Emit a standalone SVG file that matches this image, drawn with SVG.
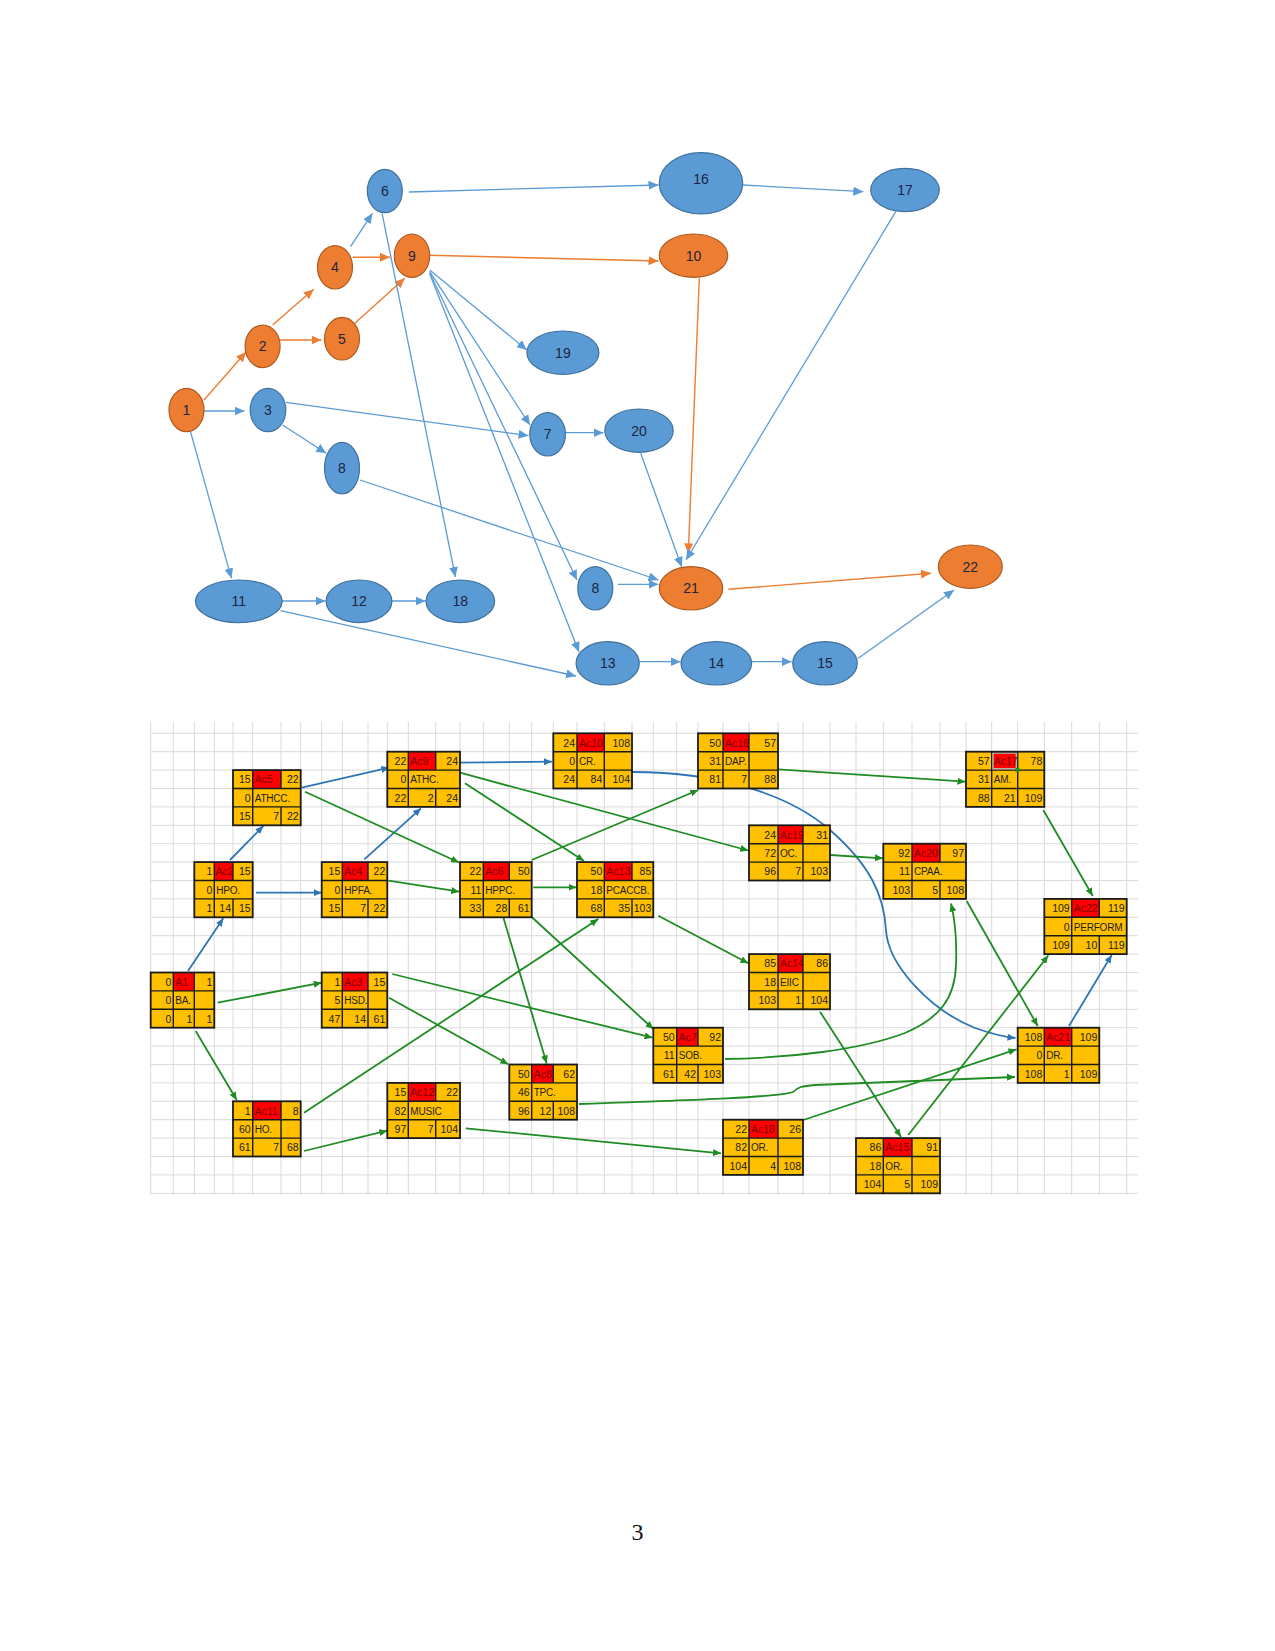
<svg xmlns="http://www.w3.org/2000/svg" width="1275" height="1651" viewBox="0 0 1275 1651">
<defs>
<style>
.eb{fill:#5B9BD5;stroke:#41719C;stroke-width:1.2}
.eo{fill:#ED7D31;stroke:#AE5A21;stroke-width:1.2}
.et{font-family:"Liberation Sans",Arial,sans-serif;font-size:14px;fill:#1c2541;text-anchor:middle}
.cb{fill:none;stroke:#5B9BD5;stroke-width:1.3}
.co{fill:none;stroke:#ED7D31;stroke-width:1.4}
.gd{fill:none;stroke:#d9d9d9;stroke-width:1}
.bx{fill:#FFC000}
.rd{fill:#FF0000}
.ln{fill:none;stroke:#1a1a1a;stroke-width:1.4}
.ol{fill:none;stroke:#1a1a1a;stroke-width:1.8}
.n{font-family:"Liberation Sans",Arial,sans-serif;font-size:10.5px;fill:#222;text-anchor:end}
.l{font-family:"Liberation Sans",Arial,sans-serif;font-size:10px;letter-spacing:-0.2px;fill:#222;text-anchor:start}
.a{font-family:"Liberation Sans",Arial,sans-serif;font-size:10.5px;fill:#7a0000;text-anchor:start}
.cg{fill:none;stroke:#1E8C22;stroke-width:1.8}
.cB{fill:none;stroke:#2E75B6;stroke-width:1.8}
</style>
<marker id="mb" markerUnits="userSpaceOnUse" markerWidth="11" markerHeight="9" refX="10" refY="4.5" orient="auto"><path d="M0,0 L10,4.5 L0,9 z" fill="#5B9BD5"/></marker>
<marker id="mo" markerUnits="userSpaceOnUse" markerWidth="11" markerHeight="9" refX="10" refY="4.5" orient="auto"><path d="M0,0 L10,4.5 L0,9 z" fill="#ED7D31"/></marker>
<marker id="mg" markerUnits="userSpaceOnUse" markerWidth="9" markerHeight="7" refX="8" refY="3.5" orient="auto"><path d="M0,0 L8,3.5 L0,7 z" fill="#1E8C22"/></marker>
<marker id="mB" markerUnits="userSpaceOnUse" markerWidth="9" markerHeight="7" refX="8" refY="3.5" orient="auto"><path d="M0,0 L8,3.5 L0,7 z" fill="#2E75B6"/></marker>
</defs>
<rect x="0" y="0" width="1275" height="1651" fill="#ffffff"/>

<!-- ===== Upper network: connectors ===== -->
<g id="top-connectors">
<line class="co" x1="204" y1="400" x2="246" y2="352" marker-end="url(#mo)"/>
<line class="co" x1="272.6" y1="325" x2="313.7" y2="289.3" marker-end="url(#mo)"/>
<line class="co" x1="280.1" y1="340" x2="321.5" y2="340" marker-end="url(#mo)"/>
<line class="co" x1="352.6" y1="257.3" x2="390" y2="257.3" marker-end="url(#mo)"/>
<line class="co" x1="354.8" y1="323.3" x2="404.8" y2="278.3" marker-end="url(#mo)"/>
<line class="co" x1="429.8" y1="255.3" x2="658.5" y2="261" marker-end="url(#mo)"/>
<line class="co" x1="699.3" y1="278.3" x2="688.3" y2="553.3" marker-end="url(#mo)"/>
<line class="co" x1="728.3" y1="589.3" x2="931" y2="573.3" marker-end="url(#mo)"/>
<line class="cb" x1="350.5" y1="246.7" x2="372.4" y2="213.3" marker-end="url(#mb)"/>
<line class="cb" x1="408.9" y1="192" x2="658.5" y2="185" marker-end="url(#mb)"/>
<line class="cb" x1="742.7" y1="185" x2="863.3" y2="191.7" marker-end="url(#mb)"/>
<line class="cb" x1="895.7" y1="211.7" x2="686" y2="560" marker-end="url(#mb)"/>
<line class="cb" x1="382.1" y1="213.3" x2="455.4" y2="577" marker-end="url(#mb)"/>
<line class="cb" x1="429.8" y1="270" x2="526.8" y2="350" marker-end="url(#mb)"/>
<line class="cb" x1="429.8" y1="271.7" x2="530" y2="425" marker-end="url(#mb)"/>
<line class="cb" x1="429.8" y1="273" x2="577" y2="580" marker-end="url(#mb)"/>
<line class="cb" x1="429.8" y1="274" x2="579" y2="652" marker-end="url(#mb)"/>
<line class="cb" x1="204" y1="411" x2="244.5" y2="411" marker-end="url(#mb)"/>
<line class="cb" x1="285.9" y1="402.3" x2="528.5" y2="435.7" marker-end="url(#mb)"/>
<line class="cb" x1="282.6" y1="425" x2="326.2" y2="453.3" marker-end="url(#mb)"/>
<line class="cb" x1="190.5" y1="431.7" x2="231.4" y2="578.3" marker-end="url(#mb)"/>
<line class="cb" x1="360.1" y1="480" x2="658.5" y2="580" marker-end="url(#mb)"/>
<line class="cb" x1="617.9" y1="584.3" x2="658.5" y2="584.3" marker-end="url(#mb)"/>
<line class="cb" x1="565.5" y1="432.7" x2="603.5" y2="432.7" marker-end="url(#mb)"/>
<line class="cb" x1="640.7" y1="453.3" x2="681.7" y2="567" marker-end="url(#mb)"/>
<line class="cb" x1="282.1" y1="601" x2="325.5" y2="601" marker-end="url(#mb)"/>
<line class="cb" x1="391.8" y1="601" x2="425.5" y2="601" marker-end="url(#mb)"/>
<line class="cb" x1="280.4" y1="610.7" x2="576" y2="676" marker-end="url(#mb)"/>
<line class="cb" x1="639.3" y1="661.7" x2="680.5" y2="661.7" marker-end="url(#mb)"/>
<line class="cb" x1="751.7" y1="661.7" x2="791.7" y2="661.7" marker-end="url(#mb)"/>
<line class="cb" x1="858.3" y1="658.3" x2="954" y2="590" marker-end="url(#mb)"/>
</g>

<!-- ===== Upper network: nodes ===== -->
<g id="n1"><ellipse class="eo" cx="186.5" cy="410" rx="17.5" ry="21.7"/><text class="et" x="186.5" y="415">1</text></g>
<g id="n2"><ellipse class="eo" cx="262.6" cy="346.3" rx="17.5" ry="21.3"/><text class="et" x="262.6" y="351.3">2</text></g>
<g id="n3"><ellipse class="eb" cx="268" cy="410" rx="17.8" ry="21.7"/><text class="et" x="268" y="415">3</text></g>
<g id="n4"><ellipse class="eo" cx="335" cy="267.3" rx="17.5" ry="21.7"/><text class="et" x="335" y="272.3">4</text></g>
<g id="n5"><ellipse class="eo" cx="342" cy="338.7" rx="17.5" ry="21.3"/><text class="et" x="342" y="343.7">5</text></g>
<g id="n6"><ellipse class="eb" cx="384.8" cy="191" rx="17.5" ry="21.7"/><text class="et" x="384.8" y="196">6</text></g>
<g id="n7"><ellipse class="eb" cx="547.6" cy="434.3" rx="17.8" ry="21.7"/><text class="et" x="547.6" y="439.3">7</text></g>
<g id="n8a"><ellipse class="eb" cx="342" cy="468.2" rx="17.5" ry="25.8"/><text class="et" x="342" y="473.2">8</text></g>
<g id="n8b"><ellipse class="eb" cx="595.3" cy="588.3" rx="17.5" ry="21.7"/><text class="et" x="595.3" y="593.3">8</text></g>
<g id="n9"><ellipse class="eo" cx="412" cy="255.7" rx="17.7" ry="21.7"/><text class="et" x="412" y="260.7">9</text></g>
<g id="n10"><ellipse class="eo" cx="693.5" cy="255.7" rx="34.2" ry="21.7"/><text class="et" x="693.5" y="260.7">10</text></g>
<g id="n11"><ellipse class="eb" cx="238.8" cy="601.3" rx="43.4" ry="21.3"/><text class="et" x="238.8" y="606.3">11</text></g>
<g id="n12"><ellipse class="eb" cx="359" cy="601.3" rx="32.9" ry="21.3"/><text class="et" x="359" y="606.3">12</text></g>
<g id="n13"><ellipse class="eb" cx="607.7" cy="663.3" rx="31.6" ry="21.7"/><text class="et" x="607.7" y="668.3">13</text></g>
<g id="n14"><ellipse class="eb" cx="716.3" cy="663.3" rx="35.3" ry="21.7"/><text class="et" x="716.3" y="668.3">14</text></g>
<g id="n15"><ellipse class="eb" cx="825" cy="663.3" rx="32.3" ry="21.7"/><text class="et" x="825" y="668.3">15</text></g>
<g id="n16"><ellipse class="eb" cx="701" cy="183.3" rx="41.7" ry="30.7"/><text class="et" x="701" y="183.5">16</text></g>
<g id="n17"><ellipse class="eb" cx="905" cy="190" rx="34.3" ry="21.7"/><text class="et" x="905" y="195">17</text></g>
<g id="n18"><ellipse class="eb" cx="460.3" cy="601.3" rx="34.3" ry="21.3"/><text class="et" x="460.3" y="606.3">18</text></g>
<g id="n19"><ellipse class="eb" cx="562.9" cy="352.7" rx="36" ry="21.7"/><text class="et" x="562.9" y="357.7">19</text></g>
<g id="n20"><ellipse class="eb" cx="639" cy="430.7" rx="34.2" ry="21.7"/><text class="et" x="639" y="435.7">20</text></g>
<g id="n21"><ellipse class="eo" cx="691" cy="588.3" rx="31.7" ry="21.7"/><text class="et" x="691" y="593.3">21</text></g>
<g id="n22"><ellipse class="eo" cx="970.3" cy="566.7" rx="32" ry="21.7"/><text class="et" x="970.3" y="571.7">22</text></g>

<!-- ===== Spreadsheet grid ===== -->
<g id="grid">
<path class="gd" d="M150.7,721.7V1195 M173.3,721.7V1195 M194.3,721.7V1195 M214.3,721.7V1195 M233,721.7V1195 M252.7,721.7V1195 M281,721.7V1195 M300.7,721.7V1195 M321.7,721.7V1195 M342.3,721.7V1195 M368,721.7V1195 M387.3,721.7V1195 M408.3,721.7V1195 M435.7,721.7V1195 M460,721.7V1195 M483.3,721.7V1195 M509.3,721.7V1195 M531.7,721.7V1195 M553.3,721.7V1195 M577,721.7V1195 M604.3,721.7V1195 M632,721.7V1195 M653.3,721.7V1195 M676.7,721.7V1195 M698,721.7V1195 M723,721.7V1195 M749,721.7V1195 M778,721.7V1195 M803,721.7V1195 M830,721.7V1195 M856,721.7V1195 M883.3,721.7V1195 M912,721.7V1195 M940,721.7V1195 M966,721.7V1195 M991.7,721.7V1195 M1017.7,721.7V1195 M1044.3,721.7V1195 M1071.7,721.7V1195 M1099.3,721.7V1195 M1126.7,721.7V1195"/>
<path class="gd" d="M150.7,733.3H1138 M150.7,751.7H1138 M150.7,770.1H1138 M150.7,788.5H1138 M150.7,806.9H1138 M150.7,825.3H1138 M150.7,843.7H1138 M150.7,862.1H1138 M150.7,880.5H1138 M150.7,898.9H1138 M150.7,917.3H1138 M150.7,935.7H1138 M150.7,954.1H1138 M150.7,972.5H1138 M150.7,990.9H1138 M150.7,1009.3H1138 M150.7,1027.7H1138 M150.7,1046.1H1138 M150.7,1064.5H1138 M150.7,1082.9H1138 M150.7,1101.3H1138 M150.7,1119.7H1138 M150.7,1138.1H1138 M150.7,1156.5H1138 M150.7,1174.9H1138 M150.7,1193.3H1138"/>
</g>

<!-- ===== Spreadsheet connectors ===== -->
<g id="grid-connectors">
<line class="cB" x1="188" y1="971" x2="223.3" y2="918.3" marker-end="url(#mB)"/>
<line class="cB" x1="230" y1="860" x2="263.3" y2="826" marker-end="url(#mB)"/>
<line class="cB" x1="256" y1="892.7" x2="321.7" y2="892.7" marker-end="url(#mB)"/>
<line class="cB" x1="364.3" y1="859.3" x2="421" y2="808.3" marker-end="url(#mB)"/>
<line class="cB" x1="301.7" y1="787.7" x2="389.3" y2="767.7" marker-end="url(#mB)"/>
<line class="cB" x1="460" y1="762.7" x2="552" y2="761.7" marker-end="url(#mB)"/>
<path class="cB" d="M632,772 C720,772 790,795 830,830 C870,865 884,895 886,930 C888,965 930,1010 975,1028 C995,1035 1005,1037 1015.5,1038" marker-end="url(#mB)"/>
<line class="cB" x1="1069" y1="1026" x2="1111.7" y2="955" marker-end="url(#mB)"/>

<line class="cg" x1="217.7" y1="1002.7" x2="321.7" y2="982.7" marker-end="url(#mg)"/>
<line class="cg" x1="195.7" y1="1031" x2="236.7" y2="1100" marker-end="url(#mg)"/>
<line class="cg" x1="304" y1="1112.7" x2="598.3" y2="919" marker-end="url(#mg)"/>
<line class="cg" x1="304" y1="1151" x2="387.3" y2="1130.7" marker-end="url(#mg)"/>
<line class="cg" x1="465.7" y1="1128.3" x2="721" y2="1153.3" marker-end="url(#mg)"/>
<line class="cg" x1="392.3" y1="974" x2="652.5" y2="1037.7" marker-end="url(#mg)"/>
<line class="cg" x1="389" y1="997.7" x2="508.3" y2="1064.3" marker-end="url(#mg)"/>
<line class="cg" x1="305" y1="791.7" x2="459" y2="862.5" marker-end="url(#mg)"/>
<line class="cg" x1="388.3" y1="880.7" x2="459.3" y2="891.7" marker-end="url(#mg)"/>
<line class="cg" x1="460" y1="772.7" x2="748.3" y2="850.5" marker-end="url(#mg)"/>
<line class="cg" x1="465" y1="783.3" x2="584" y2="861" marker-end="url(#mg)"/>
<line class="cg" x1="531.7" y1="860" x2="698.3" y2="790" marker-end="url(#mg)"/>
<line class="cg" x1="533.3" y1="887.3" x2="576.5" y2="887.3" marker-end="url(#mg)"/>
<line class="cg" x1="503.3" y1="917.3" x2="546.7" y2="1063.5" marker-end="url(#mg)"/>
<line class="cg" x1="531.7" y1="917" x2="653.3" y2="1029" marker-end="url(#mg)"/>
<line class="cg" x1="658.3" y1="915.7" x2="748.3" y2="963.3" marker-end="url(#mg)"/>
<line class="cg" x1="778.3" y1="769.3" x2="965.5" y2="781.7" marker-end="url(#mg)"/>
<line class="cg" x1="830" y1="855" x2="883" y2="858.3" marker-end="url(#mg)"/>
<line class="cg" x1="1043.3" y1="810" x2="1092.7" y2="896" marker-end="url(#mg)"/>
<line class="cg" x1="966.7" y1="901" x2="1037.7" y2="1026" marker-end="url(#mg)"/>
<path class="cg" d="M725,1059 C790,1058 860,1050 905,1033 C940,1018 955,998 956,965 C957,940 955,920 951,903.5" marker-end="url(#mg)"/>
<path class="cg" d="M579,1104 C700,1100 780,1097 793,1092 C797,1087 803,1086 815,1085 L1015,1077" marker-end="url(#mg)"/>
<line class="cg" x1="803.3" y1="1120" x2="1016.5" y2="1049.3" marker-end="url(#mg)"/>
<line class="cg" x1="820" y1="1011.7" x2="901" y2="1137" marker-end="url(#mg)"/>
<line class="cg" x1="908.3" y1="1135" x2="1048.3" y2="955.5" marker-end="url(#mg)"/>
</g>

<!-- ===== Spreadsheet activity boxes ===== -->
<g id="A1">
<rect class="bx" x="150.7" y="972.5" width="63.6" height="55.2"/><rect class="rd" x="173.3" y="972.5" width="21" height="18.4"/>
<path class="ln" d="M150.7,990.9H214.3 M150.7,1009.3H214.3 M173.3,972.5V1027.7 M194.3,972.5V1027.7"/><rect class="ol" x="150.7" y="972.5" width="63.6" height="55.2"/>
<text class="n" x="171.3" y="985.8">0</text><text class="a" x="175.3" y="985.8">A1</text><text class="n" x="212.3" y="985.8">1</text>
<text class="n" x="171.3" y="1004.2">0</text><text class="l" x="175.3" y="1004.2">BA.</text>
<text class="n" x="171.3" y="1022.6">0</text><text class="n" x="192.3" y="1022.6">1</text><text class="n" x="212.3" y="1022.6">1</text>
</g>
<g id="Ac2">
<rect class="bx" x="194.3" y="862.1" width="58.4" height="55.2"/><rect class="rd" x="214.3" y="862.1" width="18.7" height="18.4"/>
<path class="ln" d="M194.3,880.5H252.7 M194.3,898.9H252.7 M214.3,862.1V917.3 M233,862.1V880.5 M233,898.9V917.3"/><rect class="ol" x="194.3" y="862.1" width="58.4" height="55.2"/>
<text class="n" x="212.3" y="875.4">1</text><text class="a" x="215.5" y="875.4">Ac2</text><text class="n" x="250.7" y="875.4">15</text>
<text class="n" x="212.3" y="893.8">0</text><text class="l" x="216.3" y="893.8">HPO.</text>
<text class="n" x="212.3" y="912.2">1</text><text class="n" x="231" y="912.2">14</text><text class="n" x="250.7" y="912.2">15</text>
</g>
<g id="Ac5">
<rect class="bx" x="233" y="770.1" width="67.7" height="55.2"/><rect class="rd" x="252.7" y="770.1" width="28.3" height="18.4"/>
<path class="ln" d="M233,788.5H300.7 M233,806.9H300.7 M252.7,770.1V825.3 M281,770.1V788.5 M281,806.9V825.3"/><rect class="ol" x="233" y="770.1" width="67.7" height="55.2"/>
<text class="n" x="250.7" y="783.4">15</text><text class="a" x="254.7" y="783.4">Ac5</text><text class="n" x="298.7" y="783.4">22</text>
<text class="n" x="250.7" y="801.8">0</text><text class="l" x="254.7" y="801.8">ATHCC.</text>
<text class="n" x="250.7" y="820.2">15</text><text class="n" x="279" y="820.2">7</text><text class="n" x="298.7" y="820.2">22</text>
</g>
<g id="Ac11">
<rect class="bx" x="233" y="1101.3" width="67.7" height="55.2"/><rect class="rd" x="252.7" y="1101.3" width="28.3" height="18.4"/>
<path class="ln" d="M233,1119.7H300.7 M233,1138.1H300.7 M252.7,1101.3V1156.5 M281,1101.3V1156.5"/><rect class="ol" x="233" y="1101.3" width="67.7" height="55.2"/>
<text class="n" x="250.7" y="1114.6">1</text><text class="a" x="254.7" y="1114.6">Ac11</text><text class="n" x="298.7" y="1114.6">8</text>
<text class="n" x="250.7" y="1133">60</text><text class="l" x="254.7" y="1133">HO.</text>
<text class="n" x="250.7" y="1151.4">61</text><text class="n" x="279" y="1151.4">7</text><text class="n" x="298.7" y="1151.4">68</text>
</g>
<g id="Ac4">
<rect class="bx" x="321.7" y="862.1" width="65.6" height="55.2"/><rect class="rd" x="342.3" y="862.1" width="25.7" height="18.4"/>
<path class="ln" d="M321.7,880.5H387.3 M321.7,898.9H387.3 M342.3,862.1V917.3 M368,862.1V880.5 M368,898.9V917.3"/><rect class="ol" x="321.7" y="862.1" width="65.6" height="55.2"/>
<text class="n" x="340.3" y="875.4">15</text><text class="a" x="344.3" y="875.4">Ac4</text><text class="n" x="385.3" y="875.4">22</text>
<text class="n" x="340.3" y="893.8">0</text><text class="l" x="344.3" y="893.8">HPFA.</text>
<text class="n" x="340.3" y="912.2">15</text><text class="n" x="366" y="912.2">7</text><text class="n" x="385.3" y="912.2">22</text>
</g>
<g id="Ac3">
<rect class="bx" x="321.7" y="972.5" width="65.6" height="55.2"/><rect class="rd" x="342.3" y="972.5" width="25.7" height="18.4"/>
<path class="ln" d="M321.7,990.9H387.3 M321.7,1009.3H387.3 M342.3,972.5V1027.7 M368,972.5V1027.7"/><rect class="ol" x="321.7" y="972.5" width="65.6" height="55.2"/>
<text class="n" x="340.3" y="985.8">1</text><text class="a" x="344.3" y="985.8">Ac3</text><text class="n" x="385.3" y="985.8">15</text>
<text class="n" x="340.3" y="1004.2">5</text><text class="l" x="344.3" y="1004.2">HSD.</text>
<text class="n" x="340.3" y="1022.6">47</text><text class="n" x="366" y="1022.6">14</text><text class="n" x="385.3" y="1022.6">61</text>
</g>
<g id="Ac9">
<rect class="bx" x="387.3" y="751.7" width="72.7" height="55.2"/><rect class="rd" x="408.3" y="751.7" width="27.4" height="18.4"/>
<path class="ln" d="M387.3,770.1H460 M387.3,788.5H460 M408.3,751.7V806.9 M435.7,751.7V770.1 M435.7,788.5V806.9"/><rect class="ol" x="387.3" y="751.7" width="72.7" height="55.2"/>
<text class="n" x="406.3" y="765">22</text><text class="a" x="410.3" y="765">Ac9</text><text class="n" x="458" y="765">24</text>
<text class="n" x="406.3" y="783.4">0</text><text class="l" x="410.3" y="783.4">ATHC.</text>
<text class="n" x="406.3" y="801.8">22</text><text class="n" x="433.7" y="801.8">2</text><text class="n" x="458" y="801.8">24</text>
</g>
<g id="Ac12">
<rect class="bx" x="387.3" y="1082.9" width="72.7" height="55.2"/><rect class="rd" x="408.3" y="1082.9" width="27.4" height="18.4"/>
<path class="ln" d="M387.3,1101.3H460 M387.3,1119.7H460 M408.3,1082.9V1138.1 M435.7,1082.9V1101.3 M435.7,1119.7V1138.1"/><rect class="ol" x="387.3" y="1082.9" width="72.7" height="55.2"/>
<text class="n" x="406.3" y="1096.2">15</text><text class="a" x="410.3" y="1096.2">Ac12</text><text class="n" x="458" y="1096.2">22</text>
<text class="n" x="406.3" y="1114.6">82</text><text class="l" x="410.3" y="1114.6">MUSIC</text>
<text class="n" x="406.3" y="1133">97</text><text class="n" x="433.7" y="1133">7</text><text class="n" x="458" y="1133">104</text>
</g>
<g id="Ac6">
<rect class="bx" x="460" y="862.1" width="71.7" height="55.2"/><rect class="rd" x="483.3" y="862.1" width="26" height="18.4"/>
<path class="ln" d="M460,880.5H531.7 M460,898.9H531.7 M483.3,862.1V917.3 M509.3,862.1V880.5 M509.3,898.9V917.3"/><rect class="ol" x="460" y="862.1" width="71.7" height="55.2"/>
<text class="n" x="481.3" y="875.4">22</text><text class="a" x="485.3" y="875.4">Ac6</text><text class="n" x="529.7" y="875.4">50</text>
<text class="n" x="481.3" y="893.8">11</text><text class="l" x="485.3" y="893.8">HPPC.</text>
<text class="n" x="481.3" y="912.2">33</text><text class="n" x="507.3" y="912.2">28</text><text class="n" x="529.7" y="912.2">61</text>
</g>
<g id="Ac8">
<rect class="bx" x="509.3" y="1064.5" width="67.7" height="55.2"/><rect class="rd" x="531.7" y="1064.5" width="21.6" height="18.4"/>
<path class="ln" d="M509.3,1082.9H577 M509.3,1101.3H577 M531.7,1064.5V1119.7 M553.3,1064.5V1082.9 M553.3,1101.3V1119.7"/><rect class="ol" x="509.3" y="1064.5" width="67.7" height="55.2"/>
<text class="n" x="529.7" y="1077.8">50</text><text class="a" x="533.7" y="1077.8">Ac8</text><text class="n" x="575" y="1077.8">62</text>
<text class="n" x="529.7" y="1096.2">46</text><text class="l" x="533.7" y="1096.2">TPC.</text>
<text class="n" x="529.7" y="1114.6">96</text><text class="n" x="551.3" y="1114.6">12</text><text class="n" x="575" y="1114.6">108</text>
</g>
<g id="Ac10">
<rect class="bx" x="553.3" y="733.3" width="78.7" height="55.2"/><rect class="rd" x="577" y="733.3" width="27.3" height="18.4"/>
<path class="ln" d="M553.3,751.7H632 M553.3,770.1H632 M577,733.3V788.5 M604.3,733.3V788.5"/><rect class="ol" x="553.3" y="733.3" width="78.7" height="55.2"/>
<text class="n" x="575" y="746.6">24</text><text class="a" x="579" y="746.6">Ac10</text><text class="n" x="630" y="746.6">108</text>
<text class="n" x="575" y="765">0</text><text class="l" x="579" y="765">CR.</text>
<text class="n" x="575" y="783.4">24</text><text class="n" x="602.3" y="783.4">84</text><text class="n" x="630" y="783.4">104</text>
</g>
<g id="Ac13">
<rect class="bx" x="577" y="862.1" width="76.3" height="55.2"/><rect class="rd" x="604.3" y="862.1" width="27.7" height="18.4"/>
<path class="ln" d="M577,880.5H653.3 M577,898.9H653.3 M604.3,862.1V917.3 M632,862.1V880.5 M632,898.9V917.3"/><rect class="ol" x="577" y="862.1" width="76.3" height="55.2"/>
<text class="n" x="602.3" y="875.4">50</text><text class="a" x="606.3" y="875.4">Ac13</text><text class="n" x="651.3" y="875.4">85</text>
<text class="n" x="602.3" y="893.8">18</text><text class="l" x="606.3" y="893.8">PCACCB.</text>
<text class="n" x="602.3" y="912.2">68</text><text class="n" x="630" y="912.2">35</text><text class="n" x="651.3" y="912.2">103</text>
</g>
<g id="Ac7">
<rect class="bx" x="653.3" y="1027.7" width="69.7" height="55.2"/><rect class="rd" x="676.7" y="1027.7" width="21.3" height="18.4"/>
<path class="ln" d="M653.3,1046.1H723 M653.3,1064.5H723 M676.7,1027.7V1082.9 M698,1027.7V1046.1 M698,1064.5V1082.9"/><rect class="ol" x="653.3" y="1027.7" width="69.7" height="55.2"/>
<text class="n" x="674.7" y="1041">50</text><text class="a" x="678.7" y="1041">Ac7</text><text class="n" x="721" y="1041">92</text>
<text class="n" x="674.7" y="1059.4">11</text><text class="l" x="678.7" y="1059.4">SOB.</text>
<text class="n" x="674.7" y="1077.8">61</text><text class="n" x="696" y="1077.8">42</text><text class="n" x="721" y="1077.8">103</text>
</g>
<g id="Ac16">
<rect class="bx" x="698" y="733.3" width="80" height="55.2"/><rect class="rd" x="723" y="733.3" width="26" height="18.4"/>
<path class="ln" d="M698,751.7H778 M698,770.1H778 M723,733.3V788.5 M749,733.3V788.5"/><rect class="ol" x="698" y="733.3" width="80" height="55.2"/>
<text class="n" x="721" y="746.6">50</text><text class="a" x="725" y="746.6">Ac16</text><text class="n" x="776" y="746.6">57</text>
<text class="n" x="721" y="765">31</text><text class="l" x="725" y="765">DAP.</text>
<text class="n" x="721" y="783.4">81</text><text class="n" x="747" y="783.4">7</text><text class="n" x="776" y="783.4">88</text>
</g>
<g id="Ac18">
<rect class="bx" x="723" y="1119.7" width="80" height="55.2"/><rect class="rd" x="749" y="1119.7" width="29" height="18.4"/>
<path class="ln" d="M723,1138.1H803 M723,1156.5H803 M749,1119.7V1174.9 M778,1119.7V1174.9"/><rect class="ol" x="723" y="1119.7" width="80" height="55.2"/>
<text class="n" x="747" y="1133">22</text><text class="a" x="751" y="1133">Ac18</text><text class="n" x="801" y="1133">26</text>
<text class="n" x="747" y="1151.4">82</text><text class="l" x="751" y="1151.4">OR.</text>
<text class="n" x="747" y="1169.8">104</text><text class="n" x="776" y="1169.8">4</text><text class="n" x="801" y="1169.8">108</text>
</g>
<g id="Ac19">
<rect class="bx" x="749" y="825.3" width="81" height="55.2"/><rect class="rd" x="778" y="825.3" width="25" height="18.4"/>
<path class="ln" d="M749,843.7H830 M749,862.1H830 M778,825.3V880.5 M803,825.3V880.5"/><rect class="ol" x="749" y="825.3" width="81" height="55.2"/>
<text class="n" x="776" y="838.6">24</text><text class="a" x="780" y="838.6">Ac19</text><text class="n" x="828" y="838.6">31</text>
<text class="n" x="776" y="857">72</text><text class="l" x="780" y="857">OC.</text>
<text class="n" x="776" y="875.4">96</text><text class="n" x="801" y="875.4">7</text><text class="n" x="828" y="875.4">103</text>
</g>
<g id="Ac14">
<rect class="bx" x="749" y="954.1" width="81" height="55.2"/><rect class="rd" x="778" y="954.1" width="25" height="18.4"/>
<path class="ln" d="M749,972.5H830 M749,990.9H830 M778,954.1V1009.3 M803,954.1V1009.3"/><rect class="ol" x="749" y="954.1" width="81" height="55.2"/>
<text class="n" x="776" y="967.4">85</text><text class="a" x="780" y="967.4">Ac14</text><text class="n" x="828" y="967.4">86</text>
<text class="n" x="776" y="985.8">18</text><text class="l" x="780" y="985.8">EIIC</text>
<text class="n" x="776" y="1004.2">103</text><text class="n" x="801" y="1004.2">1</text><text class="n" x="828" y="1004.2">104</text>
</g>
<g id="Ac15">
<rect class="bx" x="856" y="1138.1" width="84" height="55.2"/><rect class="rd" x="883.3" y="1138.1" width="28.7" height="18.4"/>
<path class="ln" d="M856,1156.5H940 M856,1174.9H940 M883.3,1138.1V1193.3 M912,1138.1V1193.3"/><rect class="ol" x="856" y="1138.1" width="84" height="55.2"/>
<text class="n" x="881.3" y="1151.4">86</text><text class="a" x="885.3" y="1151.4">Ac15</text><text class="n" x="938" y="1151.4">91</text>
<text class="n" x="881.3" y="1169.8">18</text><text class="l" x="885.3" y="1169.8">OR.</text>
<text class="n" x="881.3" y="1188.2">104</text><text class="n" x="910" y="1188.2">5</text><text class="n" x="938" y="1188.2">109</text>
</g>
<g id="Ac20">
<rect class="bx" x="883.3" y="843.7" width="82.7" height="55.2"/><rect class="rd" x="912" y="843.7" width="28" height="18.4"/>
<path class="ln" d="M883.3,862.1H966 M883.3,880.5H966 M912,843.7V898.9 M940,843.7V862.1 M940,880.5V898.9"/><rect class="ol" x="883.3" y="843.7" width="82.7" height="55.2"/>
<text class="n" x="910" y="857">92</text><text class="a" x="914" y="857">Ac20</text><text class="n" x="964" y="857">97</text>
<text class="n" x="910" y="875.4">11</text><text class="l" x="914" y="875.4">CPAA.</text>
<text class="n" x="910" y="893.8">103</text><text class="n" x="938" y="893.8">5</text><text class="n" x="964" y="893.8">108</text>
</g>
<g id="Ac17">
<rect class="bx" x="966" y="751.7" width="78.3" height="55.2"/><rect class="rd" x="991.7" y="751.7" width="26" height="18.4"/>
<path class="ln" d="M966,770.1H1044.3 M966,788.5H1044.3 M991.7,751.7V806.9 M1017.7,751.7V806.9"/>
<rect x="993" y="753" width="23.4" height="15.8" fill="none" stroke="#a8c0a8" stroke-width="1.5"/>
<rect x="1015.5" y="767.8" width="4" height="4" fill="#1E8C22"/>
<rect class="ol" x="966" y="751.7" width="78.3" height="55.2"/>
<text class="n" x="989.7" y="765">57</text><text class="a" x="993.7" y="765">Ac17</text><text class="n" x="1042.3" y="765">78</text>
<text class="n" x="989.7" y="783.4">31</text><text class="l" x="993.7" y="783.4">AM.</text>
<text class="n" x="989.7" y="801.8">88</text><text class="n" x="1015.7" y="801.8">21</text><text class="n" x="1042.3" y="801.8">109</text>
</g>
<g id="Ac21">
<rect class="bx" x="1017.7" y="1027.7" width="81.6" height="55.2"/><rect class="rd" x="1044.3" y="1027.7" width="27.4" height="18.4"/>
<path class="ln" d="M1017.7,1046.1H1099.3 M1017.7,1064.5H1099.3 M1044.3,1027.7V1082.9 M1071.7,1027.7V1082.9"/><rect class="ol" x="1017.7" y="1027.7" width="81.6" height="55.2"/>
<text class="n" x="1042.3" y="1041">108</text><text class="a" x="1046.3" y="1041">Ac21</text><text class="n" x="1097.3" y="1041">109</text>
<text class="n" x="1042.3" y="1059.4">0</text><text class="l" x="1046.3" y="1059.4">DR.</text>
<text class="n" x="1042.3" y="1077.8">108</text><text class="n" x="1069.7" y="1077.8">1</text><text class="n" x="1097.3" y="1077.8">109</text>
</g>
<g id="Ac22">
<rect class="bx" x="1044.3" y="898.9" width="82.4" height="55.2"/><rect class="rd" x="1071.7" y="898.9" width="27.6" height="18.4"/>
<path class="ln" d="M1044.3,917.3H1126.7 M1044.3,935.7H1126.7 M1071.7,898.9V954.1 M1099.3,898.9V917.3 M1099.3,935.7V954.1"/><rect class="ol" x="1044.3" y="898.9" width="82.4" height="55.2"/>
<text class="n" x="1069.7" y="912.2">109</text><text class="a" x="1073.7" y="912.2">Ac22</text><text class="n" x="1124.7" y="912.2">119</text>
<text class="n" x="1069.7" y="930.6">0</text><text class="l" x="1073.7" y="930.6">PERFORM</text>
<text class="n" x="1069.7" y="949">109</text><text class="n" x="1097.3" y="949">10</text><text class="n" x="1124.7" y="949">119</text>
</g>

<text x="637.5" y="1540" font-family="'Liberation Serif','Times New Roman',serif" font-size="24" fill="#111" text-anchor="middle">3</text>
</svg>
